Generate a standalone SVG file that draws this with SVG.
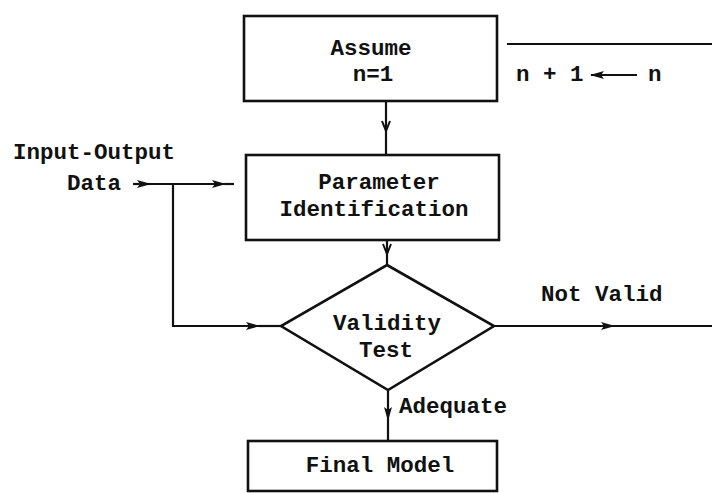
<svg xmlns="http://www.w3.org/2000/svg" width="712" height="493" viewBox="0 0 712 493">
  <defs>
    <style>
      .box { fill: #fff; stroke: #111; stroke-width: 2.6; }
      .wire { fill: none; stroke: #111; stroke-width: 2.2; }
      .txt { font-family: "Liberation Mono", "DejaVu Sans Mono", monospace; font-size: 22.5px; font-weight: bold; fill: #111; }
      .mid { text-anchor: middle; }
    </style>
    <!-- solid barbed head placed mid-line -->
    <marker id="head" viewBox="0 0 14 10" refX="13" refY="5" markerWidth="14" markerHeight="10" markerUnits="userSpaceOnUse" orient="auto">
      <path d="M0,1 L14,5 L0,9 L3,5 Z" fill="#111"/>
    </marker>
    <!-- small open head -->
    <marker id="open" viewBox="0 0 12 10" refX="11" refY="5" markerWidth="12" markerHeight="10" markerUnits="userSpaceOnUse" orient="auto">
      <path d="M1,1 L11,5 L1,9" fill="none" stroke="#111" stroke-width="2"/>
    </marker>
  </defs>
  <rect width="712" height="493" fill="#fff"/>

  <g id="connectors">
    <!-- Assume -> Parameter Identification -->
    <path class="wire" d="M386,101 V131" marker-end="url(#open)"/>
    <path class="wire" d="M386,131 V155"/>
    <!-- Parameter Identification -> Validity Test -->
    <path class="wire" d="M387,240 V254" marker-end="url(#open)"/>
    <path class="wire" d="M387,254 V265"/>
    <!-- Input-Output Data -> Parameter Identification -->
    <path class="wire" d="M133,184 H150" marker-end="url(#head)"/>
    <path class="wire" d="M150,184 H225" marker-end="url(#head)"/>
    <path class="wire" d="M225,184 H234"/>
    <!-- Data branch -> Validity Test -->
    <path class="wire" d="M173,184 V326 H259" marker-end="url(#head)"/>
    <path class="wire" d="M259,326 H281"/>
    <!-- Not Valid exit -->
    <path class="wire" d="M494,326 H614" marker-end="url(#head)"/>
    <path class="wire" d="M614,326 H712"/>
    <!-- Adequate -> Final Model -->
    <path class="wire" d="M388,390 V420" marker-end="url(#head)"/>
    <path class="wire" d="M388,420 V441"/>
    <!-- loop return line -->
    <path class="wire" d="M507,44 H712"/>
    <!-- increment arrow -->
    <path class="wire" d="M637,75 H591" marker-end="url(#head)"/>
  </g>

  <g id="assume">
    <rect class="box" x="244" y="16" width="253" height="85"/>
    <text class="txt mid" x="371" y="55">Assume</text>
    <text class="txt mid" x="373" y="81">n=1</text>
  </g>

  <g id="parameter-identification">
    <rect class="box" x="246" y="155" width="253" height="85"/>
    <text class="txt mid" x="379" y="189">Parameter</text>
    <text class="txt mid" x="374" y="216">Identification</text>
  </g>

  <g id="validity-test">
    <polygon class="box" points="387,265 494,326 388,390 281,326"/>
    <text class="txt mid" x="387" y="330">Validity</text>
    <text class="txt mid" x="386" y="357">Test</text>
  </g>

  <g id="final-model">
    <rect class="box" x="248" y="441" width="249" height="50"/>
    <text class="txt mid" x="380" y="472">Final Model</text>
  </g>

  <g id="labels">
    <text class="txt" x="13" y="159">Input-Output</text>
    <text class="txt" x="67" y="190">Data</text>
    <text class="txt" x="541" y="301">Not Valid</text>
    <text class="txt" x="399" y="413">Adequate</text>
    <text class="txt" x="516" y="81">n + 1</text>
    <text class="txt" x="648" y="81">n</text>
  </g>
</svg>
